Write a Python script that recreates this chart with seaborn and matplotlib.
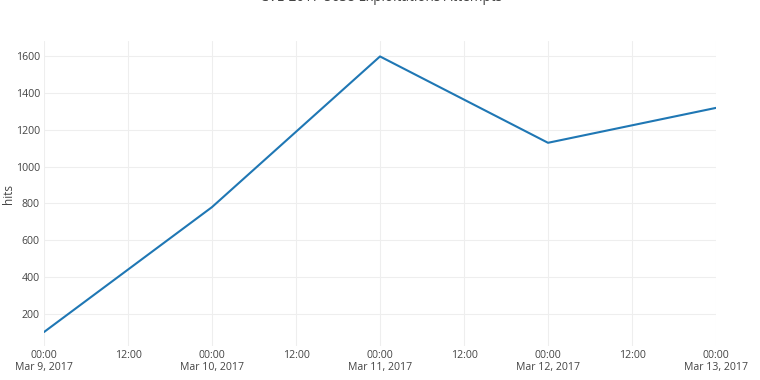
import matplotlib
matplotlib.use("Agg")
import matplotlib.pyplot as plt
import matplotlib.dates as mdates
import seaborn as sns
import pandas as pd

# Data
dates = ["2017-03-09", "2017-03-10", "2017-03-11", "2017-03-12", "2017-03-13"]
hits = [100, 780, 1600, 1130, 1320]

title = "CVE-2017-5638 Exploitations Attempts"
y_label = "hits"
y_ticks = [200, 400, 600, 800, 1000, 1200, 1400, 1600]
x_tick_times = ["2017-03-09 00:00", "2017-03-09 12:00", "2017-03-10 00:00",
                "2017-03-10 12:00", "2017-03-11 00:00", "2017-03-11 12:00",
                "2017-03-12 00:00", "2017-03-12 12:00", "2017-03-13 00:00"]
x_tick_labels = ["00:00\nMar 9, 2017", "12:00", "00:00\nMar 10, 2017", "12:00",
                 "00:00\nMar 11, 2017", "12:00", "00:00\nMar 12, 2017", "12:00",
                 "00:00\nMar 13, 2017"]

df = pd.DataFrame({"date": pd.to_datetime(dates), "hits": hits})

sns.set_theme(style="white")
plt.rcParams["font.family"] = ["Open Sans", "DejaVu Sans"]

fig = plt.figure(figsize=(7.6, 3.8), dpi=100)
ax = fig.add_axes([44 / 760, 34 / 380, 672 / 760, 305 / 380])

sns.lineplot(data=df, x="date", y="hits", ax=ax, color="#1f77b4", linewidth=1.5)

xt = pd.to_datetime(x_tick_times)
ax.set_xticks(mdates.date2num(xt))
ax.set_xticklabels(x_tick_labels)
ax.set_xlim(mdates.date2num(pd.Timestamp(dates[0])), mdates.date2num(pd.Timestamp(dates[-1])))
ax.set_ylim(24, 1684)
ax.set_yticks(y_ticks)

ax.grid(True, color="#eeeeee", linewidth=0.8)
for s in ax.spines.values():
    s.set_visible(False)
ax.tick_params(axis="both", length=0, labelsize=7.6, colors="#444444", pad=3)
ax.tick_params(axis="x", pad=3)
for lbl in ax.get_xticklabels():
    lbl.set_linespacing(1.1)

ax.set_xlabel("")
ax.set_ylabel(y_label, fontsize=8.5, color="#444444")
ax.yaxis.set_label_coords(-29 / 672, 0.5)

fig.text(381 / 760, 1 - 1 / 380, title, ha="center", va="baseline",
         fontsize=9.8, color="#444444")

fig.savefig("out.png", dpi=100)
